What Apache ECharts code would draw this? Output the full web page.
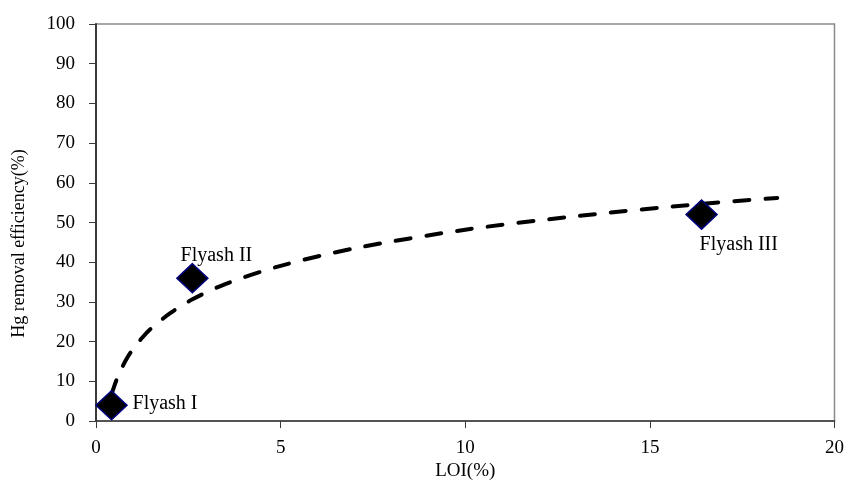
<!DOCTYPE html>
<html>
<head>
<meta charset="utf-8">
<script src="https://cdn.jsdelivr.net/npm/echarts@6/dist/echarts.min.js"></script>
<style>
  html, body { margin: 0; padding: 0; background: #fff; }
  #chart { width: 847px; height: 486px; }
</style>
</head>
<body>
<div id="chart"></div>
<script>
// Measured samples: LOI (%) vs Hg removal efficiency (%)
const sampleNames = ['Flyash I', 'Flyash II', 'Flyash III'];
const sampleLOI = [0.42, 2.61, 16.4];
const sampleEff = [4, 36, 52];

// Logarithmic trend curve, sampled along its length
const trendLOI = [0.42, 0.55, 0.7, 0.85, 1, 1.25, 1.5, 2, 2.6, 3.5, 5, 7, 10, 13, 16.4, 18.45];
const trendEff = [6.7, 10.2, 13.4, 16, 18.1, 21, 23.4, 27.1, 30.6, 34.5, 39.1, 43.5, 48.2, 51.6, 54.7, 56.2];

// Axis ranges and ticks
const xTicks = [0, 5, 10, 15, 20];
const yTicks = [0, 10, 20, 30, 40, 50, 60, 70, 80, 90, 100];

// Per-sample label placement
const labelPlacement = [
  { align: 'left', offset: [21, -1] },
  { align: 'center', offset: [24, -22] },
  { align: 'left', offset: [-2, 30] }
];

const serif = '"Liberation Serif", "Times New Roman", serif';

const points = sampleLOI.map((x, i) => ({
  value: [x, sampleEff[i]],
  name: sampleNames[i],
  label: {
    show: true,
    position: 'inside',
    formatter: sampleNames[i],
    align: labelPlacement[i].align,
    verticalAlign: 'middle',
    offset: labelPlacement[i].offset,
    color: '#000',
    opacity: 1,
    fontFamily: serif,
    fontSize: 20
  }
}));

const trend = trendLOI.map((x, i) => [x, trendEff[i]]);

const chart = echarts.init(document.getElementById('chart'), null, { renderer: 'canvas' });

chart.setOption({
  animation: false,
  backgroundColor: '#fff',
  grid: {
    left: 96, right: 10, top: 24, bottom: 61,
    show: true,
    borderColor: '#8a8a8a',
    borderWidth: 1.5,
    backgroundColor: 'transparent'
  },
  xAxis: {
    type: 'value',
    min: xTicks[0],
    max: xTicks[xTicks.length - 1],
    interval: 5,
    name: 'LOI(%)',
    nameLocation: 'middle',
    nameGap: 38,
    nameTextStyle: { fontFamily: serif, fontSize: 19, color: '#000' },
    axisLine: { show: true, onZero: false, lineStyle: { color: '#3a3a3a', width: 1.5 } },
    axisTick: { show: true, inside: false, length: 7, lineStyle: { color: '#3a3a3a', width: 1 } },
    axisLabel: { margin: 17, fontFamily: serif, fontSize: 19, color: '#000' },
    splitLine: { show: false }
  },
  yAxis: {
    type: 'value',
    min: yTicks[0],
    max: yTicks[yTicks.length - 1],
    interval: 10,
    name: 'Hg removal efficiency(%)',
    nameLocation: 'middle',
    nameGap: 68,
    nameTextStyle: { fontFamily: serif, fontSize: 18, color: '#000', padding: [0, 42, 0, 0] },
    axisLine: { show: true, onZero: false, lineStyle: { color: '#3a3a3a', width: 2 } },
    axisTick: { show: true, inside: false, length: 7, lineStyle: { color: '#3a3a3a', width: 1 } },
    axisLabel: { margin: 21, fontFamily: serif, fontSize: 19, color: '#000' },
    splitLine: { show: false }
  },
  series: [
    {
      type: 'line',
      data: trend,
      smooth: 0.3,
      showSymbol: false,
      symbol: 'none',
      z: 2,
      lineStyle: { color: '#000', width: 4, type: [15, 16], cap: 'round' }
    },
    {
      type: 'scatter',
      data: points,
      symbol: 'diamond',
      symbolSize: [31, 29],
      z: 3,
      itemStyle: { color: '#000', opacity: 1, borderColor: '#000080', borderWidth: 1.5 }
    }
  ]
});
</script>
</body>
</html>
